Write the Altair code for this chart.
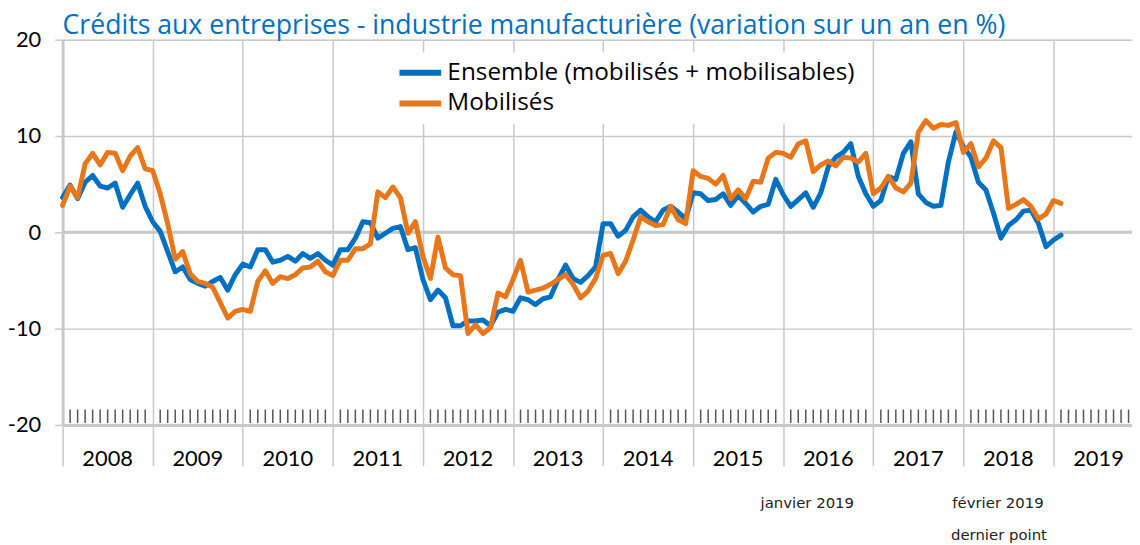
import altair as alt
import pandas as pd

# ---------------- data ----------------
series_names = ["Ensemble (mobilisés + mobilisables)", "Mobilisés"]
series_colors = ["#0070C0", "#E8761B"]
years = list(range(2008, 2020))

# monthly values, January 2008 -> February 2019
ensemble = [
    3.6, 4.9, 3.5, 5.2, 5.9, 4.8, 4.6, 5.1, 2.6, 3.9, 5.1, 2.7,          # 2008
    1.1, 0.1, -2.0, -4.1, -3.6, -4.9, -5.3, -5.6, -5.1, -4.7, -6.0, -4.4, # 2009
    -3.3, -3.6, -1.8, -1.8, -3.1, -2.9, -2.5, -3.0, -2.2, -2.7, -2.2, -2.9, # 2010
    -3.4, -1.8, -1.8, -0.6, 1.1, 1.0, -0.6, -0.1, 0.4, 0.6, -1.8, -1.6,  # 2011
    -4.9, -7.0, -6.0, -6.8, -9.7, -9.7, -9.2, -9.2, -9.1, -9.7, -8.3, -8.0, # 2012
    -8.2, -6.8, -7.0, -7.5, -6.9, -6.7, -4.9, -3.4, -4.8, -5.2, -4.5, -3.6, # 2013
    0.9, 0.9, -0.4, 0.2, 1.6, 2.3, 1.6, 1.1, 2.3, 2.7, 2.1, 1.4,         # 2014
    4.1, 4.0, 3.3, 3.4, 4.0, 2.8, 3.8, 3.0, 2.1, 2.7, 2.9, 5.5,          # 2015
    3.9, 2.7, 3.4, 4.1, 2.6, 4.1, 6.8, 7.8, 8.3, 9.2, 5.8, 4.0,          # 2016
    2.7, 3.3, 5.8, 5.5, 8.2, 9.4, 4.0, 3.1, 2.7, 2.8, 7.3, 10.4,         # 2017
    8.9, 7.8, 5.2, 4.4, 2.0, -0.6, 0.7, 1.3, 2.2, 2.3, 0.9, -1.5,        # 2018
    -0.8, -0.3,                                                          # 2019
]
mobilises = [
    2.8, 4.8, 3.6, 7.1, 8.2, 7.0, 8.3, 8.2, 6.4, 7.9, 8.8, 6.6,          # 2008
    6.4, 4.0, 0.9, -2.8, -2.0, -4.3, -5.1, -5.3, -5.7, -7.3, -8.9, -8.2, # 2009
    -8.0, -8.2, -5.1, -4.0, -5.3, -4.6, -4.8, -4.4, -3.7, -3.6, -3.0, -4.1, # 2010
    -4.5, -2.9, -2.9, -1.7, -1.7, -1.2, 4.2, 3.6, 4.7, 3.6, -0.1, 1.1,   # 2011
    -2.5, -4.8, -0.5, -3.7, -4.4, -4.5, -10.5, -9.6, -10.5, -9.9, -6.3, -6.7, # 2012
    -4.9, -2.9, -6.2, -6.0, -5.8, -5.4, -4.9, -4.4, -5.4, -6.8, -6.1, -4.8, # 2013
    -2.4, -2.2, -4.3, -3.0, -0.8, 1.6, 1.1, 0.7, 0.8, 2.7, 1.3, 0.9,     # 2014
    6.4, 5.8, 5.6, 5.0, 5.9, 3.5, 4.4, 3.5, 5.3, 5.2, 7.7, 8.3,          # 2015
    8.2, 7.8, 9.2, 9.5, 6.3, 7.0, 7.4, 6.9, 7.8, 7.7, 7.3, 8.2,          # 2016
    4.0, 4.6, 5.8, 4.6, 4.2, 5.1, 10.4, 11.6, 10.8, 11.2, 11.1, 11.4,    # 2017
    8.3, 9.2, 6.8, 7.7, 9.5, 8.8, 2.5, 2.9, 3.4, 2.7, 1.4, 1.9,          # 2018
    3.3, 3.0,                                                            # 2019
]
y_ticks = [-20, -10, 0, 10, 20]
title_text = "Crédits aux entreprises - industrie manufacturière (variation sur un an en %)"
notes = ["janvier 2019", "février 2019", "dernier point"]

# ---------------- tables ----------------
months = list(range(len(ensemble)))
df_e = pd.DataFrame({"m": months, "v": ensemble, "serie": series_names[0]})
df_m = pd.DataFrame({"m": months, "v": mobilises, "serie": series_names[1]})
n_months = len(years) * 12
df_ticks = pd.DataFrame({"m": [m for m in range(1, n_months) if m % 12 != 0]})
df_years = pd.DataFrame({"year": [str(y) for y in years],
                         "mid": [(y - years[0]) * 12 + 6 for y in years]})
year_starts = [(y - years[0]) * 12 for y in years]

FONT = "Lato"
WIDE = "Open Sans"
GRID = "#c8c8c8"
W, H = 1077, 388

x_scale = alt.Scale(domain=[0, W / 7.56], nice=False, zero=False)
y_scale = alt.Scale(domain=[-20, 20], nice=False)

color = alt.Color(
    "serie:N",
    scale=alt.Scale(domain=series_names, range=series_colors),
    legend=alt.Legend(
        title=None, orient="none", legendX=340, legendY=13, direction="vertical",
        symbolType="M-2.8,0L2.8,0", symbolSize=225, symbolStrokeWidth=6,
        labelFont=WIDE, labelFontSize=24.5, labelColor="black", labelOffset=15,
        fillColor="white", padding=8, rowPadding=5, labelLimit=700,
    ),
)

x_enc = alt.X("m:Q", scale=x_scale,
              axis=alt.Axis(values=year_starts, labels=False, title=None,
                            grid=True, gridColor=GRID, gridWidth=1.5,
                            ticks=True, tickSize=41, tickColor=GRID, tickWidth=1.5,
                            domain=True, domainColor=GRID, domainWidth=3))
y_enc = alt.Y("v:Q", scale=y_scale,
              axis=alt.Axis(values=y_ticks, title=None, grid=True, gridColor=GRID,
                            gridWidth=1.5, domain=True, domainColor=GRID, domainWidth=3,
                            ticks=True, tickSize=8, tickColor=GRID, tickWidth=1.5,
                            labelFont=FONT, labelFontSize=22, labelColor="black",
                            labelPadding=14, labelExpr="'' + datum.value"))

line_e = alt.Chart(df_e).mark_line(strokeWidth=5, strokeCap="round", strokeJoin="round").encode(
    x=x_enc, y=y_enc, color=color)
line_m = alt.Chart(df_m).mark_line(strokeWidth=5, strokeCap="round", strokeJoin="round").encode(
    x=alt.X("m:Q"), y=alt.Y("v:Q"), color=color)

zero = alt.Chart(pd.DataFrame({"v": [0]})).mark_rule(color=GRID, strokeWidth=3).encode(
    y=alt.Y("v:Q"))

mticks = alt.Chart(df_ticks).mark_rule(color="#555555", strokeWidth=1.5).encode(
    x=alt.X("m:Q"), y=alt.datum(-18.4), y2=alt.datum(-19.8))

ylabels = alt.Chart(df_years).mark_text(
    font=FONT, fontSize=22, color="black", baseline="alphabetic", dy=41
).encode(x=alt.X("mid:Q"), y=alt.datum(-20), text="year:N")

df_notes = pd.DataFrame({"t": notes, "px": [750, 942, 943], "py": [472, 472, 504]})
note_marks = alt.Chart(df_notes).mark_text(
    font="DejaVu Sans", fontSize=15, color="#222222", baseline="alphabetic", align="center"
).encode(x=alt.X("px:Q", scale=None), y=alt.Y("py:Q", scale=None), text="t:N")

chart = alt.layer(zero, mticks, line_e, line_m, ylabels, note_marks).properties(
    width=W, height=H,
    padding={"left": 55, "top": 30, "right": 0, "bottom": 119},
    autosize=alt.AutoSizeParams(type="none"),
    title=alt.TitleParams(title_text, anchor="start", frame="group", font=WIDE,
                          fontSize=26.8, fontWeight="normal", color="#0070C0",
                          offset=4, dy=15),
).configure_view(stroke=None).configure(background="white")

chart.save("out.html", embed_options={"renderer": "svg", "actions": False})
